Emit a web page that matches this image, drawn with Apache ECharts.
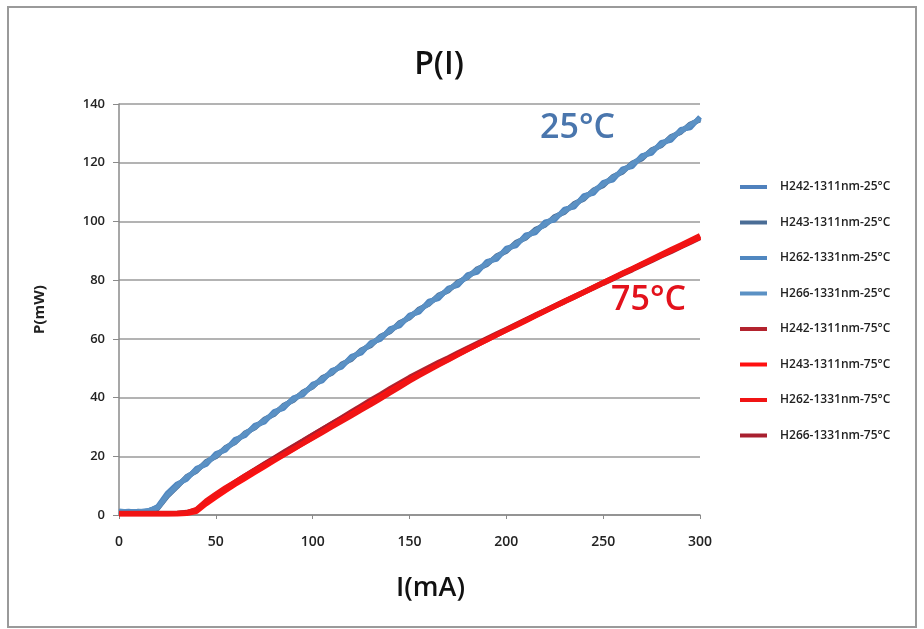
<!DOCTYPE html>
<html>
<head>
<meta charset="utf-8">
<script src="https://cdn.jsdelivr.net/npm/echarts@6/dist/echarts.min.js"></script>
<style>html,body{margin:0;padding:0;background:#fff;}#c{width:924px;height:629px;}</style>
</head>
<body>
<div id="c"></div>
<script>
// Current (mA)
const I_mA = [0,5,10,15,20,25,30,35,40,45,50,55,60,65,70,75,80,85,90,95,100,105,110,115,120,125,130,135,140,145,150,155,160,165,170,175,180,185,190,195,200,205,210,215,220,225,230,235,240,245,250,255,260,265,270,275,280,285,290,295,300];

const seriesNames = ["H242-1311nm-25°C","H243-1311nm-25°C","H262-1331nm-25°C","H266-1331nm-25°C","H242-1311nm-75°C","H243-1311nm-75°C","H262-1331nm-75°C","H266-1331nm-75°C"];

const H242_25 = [1.0,1.3,0.9,1.4,2.6,7.0,10.1,12.6,15.5,17.6,20.4,22.5,25.3,27.4,30.1,32.0,34.8,36.8,39.5,41.4,44.1,46.2,48.9,50.8,53.6,55.6,58.3,60.2,63.0,64.9,67.7,69.6,72.3,74.2,76.9,78.7,81.4,83.2,85.9,87.6,90.4,92.2,94.9,96.6,99.3,101.0,103.7,105.4,108.3,110.1,112.9,114.7,117.4,119.3,122.0,123.8,126.4,128.2,130.8,132.5,135.2];
const H243_25 = [1.2,0.8,1.3,1.0,2.2,6.4,9.6,13.1,14.9,18.2,19.8,23.0,24.7,27.9,29.6,32.6,34.2,37.4,39.0,41.9,43.6,46.8,48.3,51.4,53.0,56.2,57.7,60.9,62.4,65.6,67.1,70.2,71.8,74.9,76.3,79.4,80.9,83.9,85.3,88.3,89.8,92.9,94.3,97.3,98.7,101.7,103.1,106.1,107.6,110.7,112.2,115.3,116.8,119.9,121.3,124.4,125.8,128.9,130.3,133.2,134.6];
const H262_25 = [0.9,1.1,1.2,1.2,2.9,7.5,10.6,12.2,15.9,17.2,20.9,22.1,25.8,27.0,30.5,31.6,35.2,36.3,39.9,40.9,44.6,45.7,49.3,50.4,54.0,55.1,58.7,59.8,63.5,64.4,68.1,69.1,72.8,73.7,77.3,78.2,81.9,82.7,86.4,87.1,90.9,91.7,95.4,96.1,99.8,100.5,104.2,104.9,108.8,109.6,113.3,114.1,117.9,118.7,122.4,123.2,126.9,127.6,131.3,131.9,135.6];
const H266_25 = [1.4,1.0,1.1,1.5,2.4,6.7,9.9,12.9,15.2,17.9,20.1,22.8,24.9,27.7,29.8,32.3,34.5,37.1,39.3,41.6,43.8,46.5,48.6,51.1,53.3,55.9,58.0,60.6,62.7,65.3,67.4,69.9,72.0,74.6,76.6,79.1,81.1,83.6,85.6,88.0,90.1,92.5,94.6,96.9,99.0,101.3,103.4,105.7,107.9,110.4,112.6,115.0,117.1,119.6,121.7,124.1,126.1,128.6,130.6,132.9,134.9];

const H242_75 = [0.4,0.4,0.4,0.4,0.4,0.4,0.5,0.7,1.6,4.3,6.6,8.8,11.0,13.1,15.2,17.2,19.2,21.2,23.2,25.2,27.2,29.2,31.2,33.2,35.2,37.2,39.2,41.1,43.1,45.0,46.9,48.6,50.3,52.0,53.6,55.3,56.9,58.5,60.1,61.7,63.3,64.9,66.5,68.1,69.7,71.3,72.9,74.4,76.0,77.6,79.2,80.7,82.3,83.8,85.4,86.9,88.5,90.0,91.6,93.1,94.7];
const H243_75 = [0.3,0.3,0.3,0.3,0.3,0.3,0.3,0.5,1.2,3.8,6.1,8.3,10.4,12.4,14.4,16.4,18.4,20.4,22.4,24.4,26.4,28.4,30.4,32.4,34.4,36.4,38.4,40.3,42.3,44.2,46.1,47.9,49.6,51.3,53.0,54.7,56.4,58.0,59.6,61.3,62.9,64.5,66.1,67.8,69.4,71.0,72.6,74.2,75.8,77.4,79.0,80.6,82.2,83.7,85.3,86.9,88.4,90.0,91.5,93.1,94.6];
const H262_75 = [0.5,0.5,0.5,0.5,0.5,0.5,0.6,0.8,1.9,4.8,7.1,9.3,11.3,13.3,15.2,17.0,18.8,20.6,22.5,24.3,26.2,28.1,30.0,31.9,33.8,35.7,37.6,39.6,41.6,43.6,45.6,47.5,49.3,51.1,52.8,54.6,56.3,58.0,59.7,61.3,63.0,64.7,66.3,68.0,69.6,71.2,72.8,74.4,76.0,77.6,79.2,80.8,82.4,84.0,85.6,87.2,88.8,90.4,92.0,93.6,95.2];
const H266_75 = [0.6,0.6,0.6,0.6,0.6,0.6,0.6,0.9,1.7,4.5,6.8,9.0,11.2,13.3,15.4,17.4,19.4,21.4,23.4,25.3,27.3,29.2,31.1,33.0,34.9,36.8,38.7,40.6,42.5,44.4,46.3,48.0,49.8,51.5,53.2,54.9,56.6,58.2,59.8,61.5,63.1,64.7,66.3,67.9,69.5,71.1,72.6,74.2,75.8,77.3,78.9,80.4,82.0,83.5,85.1,86.6,88.2,89.7,91.3,92.8,94.4];

const seriesValues = [H242_25,H243_25,H262_25,H266_25,H242_75,H243_75,H262_75,H266_75];
const seriesColors = ["#4f81bd","#4a6d96","#5087c0","#5b91c4","#b3232e","#ff1010","#f01414","#a8202f"];
const seriesZ = [2,2,2,2,2,4,4,3];

const xTicks = [0,50,100,150,200,250,300];
const yTicks = [0,20,40,60,80,100,120,140];

const chart = echarts.init(document.getElementById('c'));
const FONT = '"Open Sans", "Liberation Sans", sans-serif';

const series = seriesNames.map((name, k) => ({
  name: name,
  type: 'line',
  showSymbol: false,
  symbol: 'none',
  z: seriesZ[k],
  lineStyle: { width: 5, color: seriesColors[k] },
  itemStyle: { color: seriesColors[k] },
  data: I_mA.map((x, i) => [x, seriesValues[k][i]])
}));

chart.setOption({
  animation: false,
  backgroundColor: '#ffffff',
  title: {
    text: 'P(I)',
    left: 434, top: 44, textAlign: 'center',
    textStyle: { fontFamily: FONT, fontSize: 32, fontWeight: 600, color: '#111' }
  },
  grid: { left: 119, right: 224, top: 104, bottom: 114 },
  legend: {
    orient: 'vertical',
    left: 735, top: 175,
    itemWidth: 27, itemHeight: 4, itemGap: 21.5,
    icon: 'rect',
    data: seriesNames,
    textStyle: { fontFamily: FONT, fontSize: 12, fontWeight: 600, color: '#222', lineHeight: 14, padding: [0,0,0,8] }
  },
  xAxis: {
    type: 'value',
    min: 0, max: 300, interval: 50,
    name: 'I(mA)', nameLocation: 'middle', nameGap: 60,
    nameTextStyle: { fontFamily: FONT, fontSize: 27, fontWeight: 600, color: '#111', padding: [0,0,0,42] },
    axisLine: { show: true, lineStyle: { color: '#8a8a8a', width: 1.5 } },
    axisTick: { show: true, length: 4, inside: false, lineStyle: { color: '#8a8a8a' } },
    splitLine: { show: false },
    axisLabel: { fontFamily: FONT, fontSize: 14, fontWeight: 600, color: '#222', margin: 20 }
  },
  yAxis: {
    type: 'value',
    min: 0, max: 140, interval: 20,
    name: 'P(mW)', nameLocation: 'middle', nameGap: 72, nameRotate: 90,
    nameTextStyle: { fontFamily: FONT, fontSize: 15, fontWeight: 'bold', color: '#222' },
    axisLine: { show: true, lineStyle: { color: '#8a8a8a', width: 1.5 } },
    axisTick: { show: true, length: 6, lineStyle: { color: '#8a8a8a' } },
    splitLine: { show: true, lineStyle: { color: '#9a9a9a', width: 1.6 } },
    axisLabel: { fontFamily: FONT, fontSize: 13, fontWeight: 600, color: '#222', margin: 14 }
  },
  graphic: [
    { type: 'rect', shape: { x: 8, y: 7, width: 908, height: 620 }, style: { fill: 'none', stroke: '#9a9a9a', lineWidth: 2 }, silent: true },
    { type: 'text', left: 540, top: 111, style: { text: '25°C', fontFamily: FONT, fontSize: 34, fontWeight: 600, fill: '#4a76ad' } },
    { type: 'text', left: 611, top: 283, style: { text: '75°C', fontFamily: FONT, fontSize: 34, fontWeight: 600, fill: '#e3121c' } }
  ],
  series: series
});
</script>
</body>
</html>
